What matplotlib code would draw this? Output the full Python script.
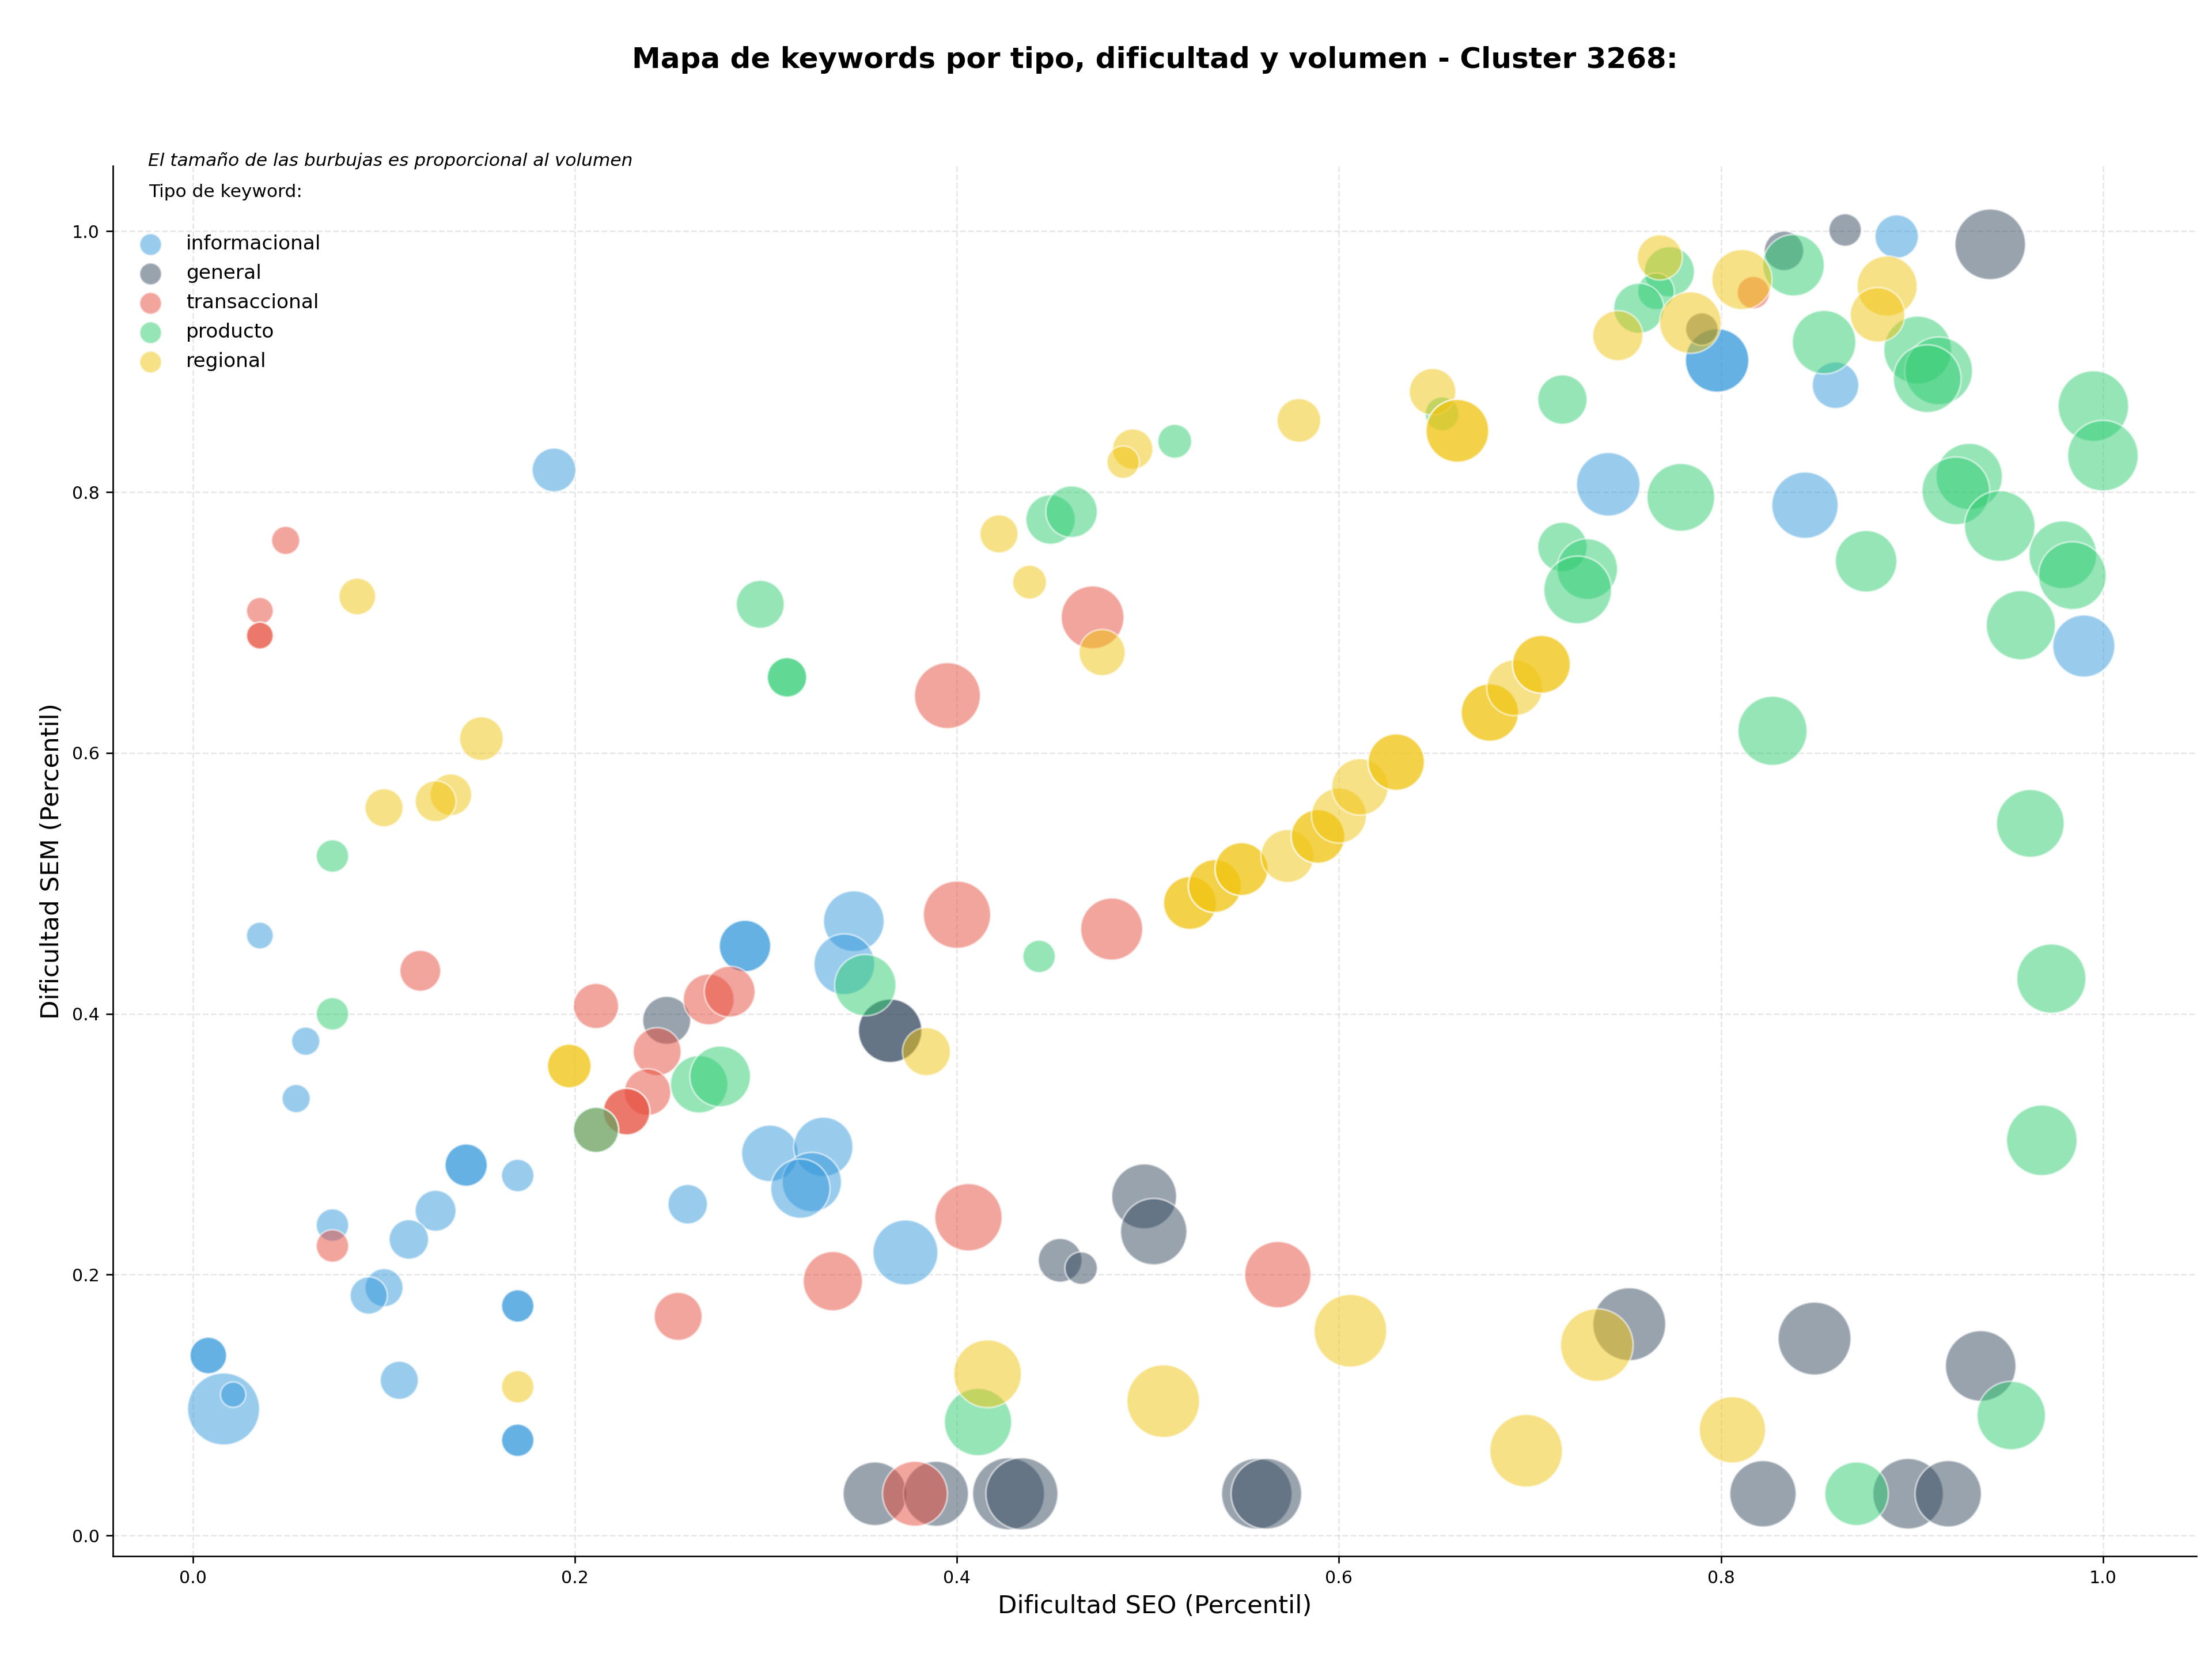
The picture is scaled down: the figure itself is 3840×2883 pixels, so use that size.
import matplotlib
matplotlib.use("Agg")
import matplotlib.pyplot as plt

# ----------------------------------------------------------------------------------------
# Datos (dificultad SEO, dificultad SEM, volumen ~ área de la burbuja)
tipos = ['informacional', 'general', 'transaccional', 'producto', 'regional']
colores = ['#3498db', '#34495e', '#e74c3c', '#2ecc71', '#f1c40f']

info_x = [0.189, 0.892, 0.798, 0.798, 0.860, 0.741, 0.844, 0.990, 0.035, 0.059, 0.054, 0.073,
          0.127, 0.113, 0.100, 0.092, 0.143, 0.143, 0.170, 0.170, 0.170, 0.170, 0.170, 0.008,
          0.008, 0.016, 0.021, 0.108, 0.289, 0.289, 0.259, 0.302, 0.330, 0.324, 0.318, 0.346,
          0.341, 0.373]
info_y = [0.817, 0.996, 0.901, 0.901, 0.882, 0.806, 0.790, 0.682, 0.460, 0.379, 0.335, 0.238,
          0.249, 0.227, 0.190, 0.184, 0.284, 0.284, 0.276, 0.176, 0.176, 0.073, 0.073, 0.138,
          0.138, 0.097, 0.108, 0.119, 0.452, 0.452, 0.254, 0.293, 0.298, 0.271, 0.266, 0.471,
          0.438, 0.217]
info_vol = [519, 509, 1094, 1094, 588, 1094, 1193, 1045, 195, 216, 216, 286,
            454, 423, 394, 376, 486, 486, 286, 286, 286, 286, 286, 365,
            365, 1405, 175, 394, 720, 720, 423, 864, 953, 953, 953, 998,
            998, 1143]

gen_x = [0.941, 0.865, 0.833, 0.790, 0.248, 0.365, 0.365, 0.454, 0.465, 0.498, 0.503, 0.357,
         0.389, 0.427, 0.434, 0.557, 0.562, 0.752, 0.849, 0.936, 0.822, 0.898, 0.919]
gen_y = [0.990, 1.001, 0.985, 0.925, 0.395, 0.387, 0.387, 0.211, 0.205, 0.260, 0.233, 0.032,
         0.032, 0.032, 0.032, 0.032, 0.032, 0.162, 0.151, 0.130, 0.032, 0.032, 0.032]
gen_vol = [1350, 286, 423, 286, 624, 1094, 1094, 519, 286, 1143, 1193, 1094,
           1143, 1405, 1405, 1350, 1350, 1440, 1440, 1350, 1193, 1350, 1193]

trans_x = [0.0485, 0.035, 0.035, 0.035, 0.119, 0.073, 0.211, 0.243, 0.238, 0.227, 0.227, 0.270,
           0.281, 0.254, 0.335, 0.395, 0.400, 0.406, 0.471, 0.481, 0.568, 0.378, 0.817, 0.211]
trans_y = [0.763, 0.709, 0.690, 0.690, 0.433, 0.222, 0.406, 0.371, 0.340, 0.325, 0.325, 0.411,
           0.417, 0.168, 0.195, 0.644, 0.476, 0.244, 0.704, 0.465, 0.200, 0.032, 0.953, 0.311]
trans_vol = [216, 195, 195, 195, 454, 286, 553, 624, 588, 588, 588, 700,
             700, 624, 953, 1178, 1228, 1228, 1069, 1045, 1193, 1143, 286, 553]

prod_x = [0.073, 0.073, 0.297, 0.311, 0.311, 0.211, 0.265, 0.276, 0.352, 0.443, 0.449, 0.460,
          0.514, 0.654, 0.717, 0.717, 0.730, 0.725, 0.779, 0.773, 0.766, 0.757, 0.838, 0.854,
          0.903, 0.914, 0.908, 0.995, 1.000, 0.930, 0.923, 0.946, 0.876, 0.979, 0.984, 0.957,
          0.827, 0.962, 0.973, 0.968, 0.952, 0.871, 0.411]
prod_y = [0.521, 0.400, 0.714, 0.658, 0.658, 0.311, 0.346, 0.352, 0.422, 0.444, 0.779, 0.785,
          0.839, 0.860, 0.871, 0.758, 0.741, 0.725, 0.796, 0.969, 0.954, 0.941, 0.974, 0.915,
          0.909, 0.893, 0.887, 0.866, 0.828, 0.812, 0.801, 0.774, 0.747, 0.752, 0.736, 0.698,
          0.617, 0.546, 0.427, 0.303, 0.092, 0.032, 0.087]
prod_vol = [286, 286, 624, 423, 423, 553, 895, 998, 1022, 286, 662, 720,
            311, 311, 662, 662, 998, 1244, 1244, 681, 365, 681, 1027, 1094,
            1244, 1244, 1244, 1350, 1350, 1193, 1244, 1350, 1027, 1244, 1244, 1297,
            1297, 1244, 1297, 1350, 1270, 1094, 1228]

reg_x = [0.086, 0.151, 0.135, 0.127, 0.100, 0.197, 0.197, 0.170, 0.384, 0.422, 0.438, 0.492,
         0.487, 0.476, 0.579, 0.649, 0.662, 0.662, 0.522, 0.522, 0.535, 0.535, 0.549, 0.549,
         0.573, 0.589, 0.589, 0.600, 0.611, 0.630, 0.630, 0.679, 0.679, 0.692, 0.706, 0.706,
         0.768, 0.811, 0.784, 0.746, 0.887, 0.882, 0.416, 0.508, 0.606, 0.698, 0.735, 0.806]
reg_y = [0.720, 0.611, 0.568, 0.563, 0.558, 0.360, 0.360, 0.114, 0.371, 0.768, 0.731, 0.833,
         0.823, 0.677, 0.855, 0.877, 0.847, 0.847, 0.485, 0.485, 0.498, 0.498, 0.511, 0.511,
         0.521, 0.536, 0.536, 0.552, 0.574, 0.593, 0.593, 0.631, 0.631, 0.650, 0.668, 0.668,
         0.980, 0.963, 0.930, 0.920, 0.958, 0.936, 0.124, 0.103, 0.157, 0.065, 0.146, 0.081]
reg_vol = [365, 519, 470, 454, 394, 519, 519, 286, 624, 394, 311, 442,
           286, 577, 519, 588, 1069, 1069, 760, 760, 760, 760, 760, 760,
           760, 780, 780, 821, 864, 864, 864, 895, 895, 844, 908, 908,
           553, 980, 1027, 681, 980, 808, 1244, 1432, 1432, 1432, 1432, 1193]

titulo = "Mapa de keywords por tipo, dificultad y volumen - Cluster 3268:"
nota = "El tamaño de las burbujas es proporcional al volumen"
# ----------------------------------------------------------------------------------------

series = [
    (info_x, info_y, info_vol),
    (gen_x, gen_y, gen_vol),
    (trans_x, trans_y, trans_vol),
    (prod_x, prod_y, prod_vol),
    (reg_x, reg_y, reg_vol),
]

fig = plt.figure(figsize=(16, 12.0125), dpi=240)
ax = fig.add_axes([0.051, 0.063, 0.942, 0.837])

for (x, y, vol), tipo, color in zip(series, tipos, colores):
    ax.scatter(x, y, s=vol, c=color, alpha=0.5, edgecolors='white', linewidths=1, label=tipo)

ax.set_xlim(-0.042, 1.049)
ax.set_ylim(-0.016, 1.05)
ax.set_xticks([0.0, 0.2, 0.4, 0.6, 0.8, 1.0])
ax.set_yticks([0.0, 0.2, 0.4, 0.6, 0.8, 1.0])
ax.tick_params(labelsize=9)

ax.set_xlabel('Dificultad SEO (Percentil)', fontsize=13)
ax.set_ylabel('Dificultad SEM (Percentil)', fontsize=13)

# estilo
ax.spines['top'].set_visible(False)
ax.spines['right'].set_visible(False)
ax.set_axisbelow(True)
ax.grid(True, linestyle='--', alpha=0.3)

# leyenda
leg = ax.legend(loc='upper left', frameon=False, fontsize=10.3, labelspacing=0.53,
                title='Tipo de keyword:', title_fontsize=9.4)
for h in leg.legend_handles:
    h.set_sizes([130])
leg._legend_box.sep = 17.5

ax.text(0.017, 1.0, nota, transform=ax.transAxes, fontsize=9.4, style='italic', va='baseline')

fig.text(0.522, 0.964, titulo, ha='center', va='center', fontsize=15, fontweight='bold')

plt.savefig('out.png', dpi=240)
